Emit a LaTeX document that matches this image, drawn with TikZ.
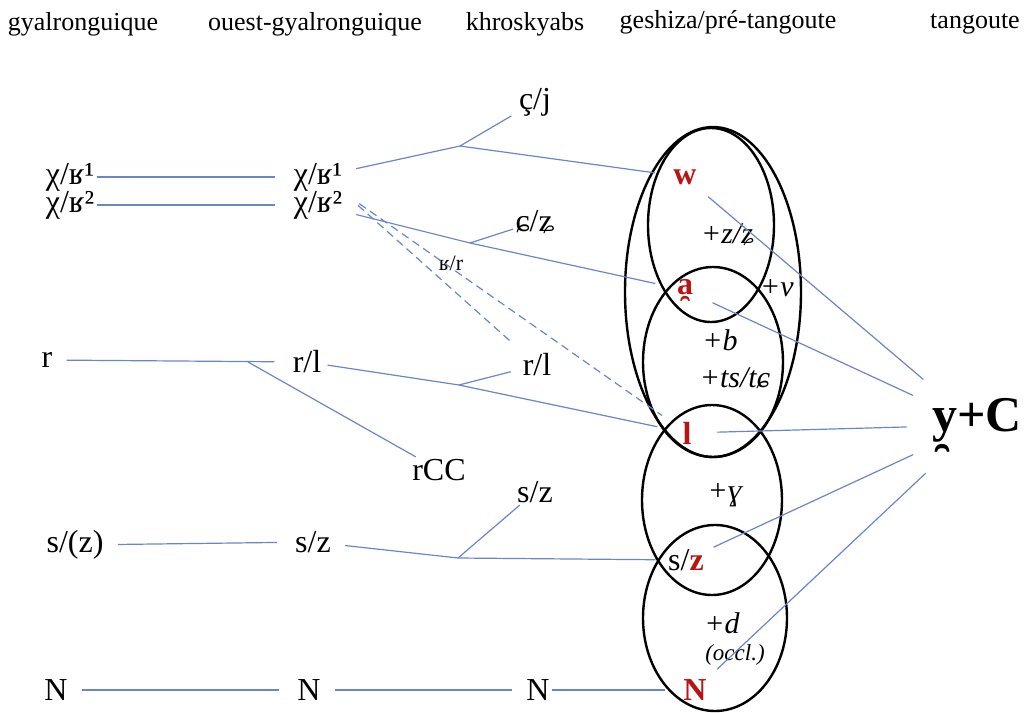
\documentclass[tikz,border=0pt]{standalone}
\usepackage{fontspec}
\setmainfont{Liberation Serif}
\definecolor{linkblue}{RGB}{105,135,200}
\definecolor{darkred}{RGB}{185,20,20}

\begin{document}
\begin{tikzpicture}
[
    x=0.5pt, y=-0.5pt,
    head/.style={font=\fontsize{13}{15}\selectfont},
    lbl/.style={font=\fontsize{16}{19}\selectfont, inner sep=1pt},
    redlbl/.style={font=\fontsize{16}{19}\selectfont\bfseries, text=darkred, circle, minimum size=30pt, inner sep=0pt},
    note/.style={font=\fontsize{15}{18}\selectfont\itshape},
    link/.style={draw=linkblue, line width=0.6pt},
    dlink/.style={link, dash pattern=on 4pt off 2.5pt},
    ring/.style={draw=black, line width=1.2pt}
]
    \useasboundingbox (0,0) rectangle (1024,713);

    \node [head] (h1) at (83,24) {gyalronguique};
    \node [head] (h2) at (315,24) {ouest-gyalronguique};
    \node [head] (h3) at (525,24) {khroskyabs};
    \node [head] (h4) at (728,22) {geshiza/pré-tangoute};
    \node [head] (h5) at (975,24) {tangoute};

    \node [lbl] (g1) at (70,177) {χ/ʁ¹};
    \node [lbl] (g2) at (70,205) {χ/ʁ²};
    \node [lbl] (g3) at (47,360) {r};
    \node [lbl] (g4) at (75,545) {s/(z)};
    \node [lbl] (g5) at (56,690) {N};

    \node [lbl] (o1) at (318,177) {χ/ʁ¹};
    \node [lbl] (o2) at (318,205) {χ/ʁ²};
    \node [lbl] (o3) at (307,362) {r/l};
    \node [lbl] (o4) at (313,542) {s/z};
    \node [lbl] (o5) at (309,690) {N};

    \node [lbl] (k1) at (535,102) {ç/j};
    \node [lbl] (k2) at (535,222) {ɕ/ʑ};
    \node [lbl] (k3) at (537,365) {r/l};
    \node [lbl] (rcc) at (439,470) {rCC};
    \node [lbl] (k4) at (535,492) {s/z};
    \node [lbl] (k5) at (538,690) {N};
    \node [font=\fontsize{11}{13}\selectfont] (ur) at (451,263) {ʁ/r};

    \coordinate (j1) at (460,146);
    \coordinate (j2) at (470,243);
    \coordinate (j3) at (248,362);
    \coordinate (j4) at (459,385);
    \coordinate (j5) at (458,558);

    \draw [ring] (711,225) ellipse [x radius=63, y radius=97];
    \draw [ring] (713,362) ellipse [x radius=70, y radius=95];
    \draw [ring] (713,292) ellipse [x radius=88, y radius=165];
    \draw [ring] (712,500) ellipse [x radius=70, y radius=95];
    \draw [ring] (715,618) ellipse [x radius=72, y radius=93];

    \node [redlbl] (w) at (685,177) {w};
    \node [redlbl] (a) at (685,290) {a̯};
    \node [redlbl] (l) at (687,433) {l};
    \node [redlbl, text=black, font=\fontsize{16}{19}\selectfont] (sz) at (686,560) {s/\textbf{\textcolor{darkred}{z}}};
    \node [redlbl] (n) at (695,690) {N};

    \node [note] (nz) at (727,235) {+z/ʑ};
    \node [note] (nv) at (777,288) {+v};
    \node [note] (nb) at (720,340) {+b};
    \node [note] (nts) at (735,378) {+ts/tɕ};
    \node [note] (ng) at (725,495) {+ɣ};
    \node [note] (nd) at (722,623) {+d};
    \node [note, font=\fontsize{11.5}{13}\selectfont\itshape] (nocc) at (735,655) {(occl.)};

    \node [font=\fontsize{25}{30}\selectfont\bfseries, circle, minimum size=70pt, inner sep=0pt] (t) at (977,425) {y̯+C};

    \draw [link, shorten >=8pt] (g1) -- (o1);
    \draw [link, shorten >=8pt] (g2) -- (o2);
    \draw [link, shorten <=6pt, shorten >=8pt] (g3) -- (o3);
    \draw [link] (j3) -- (rcc);
    \draw [link, shorten <=6pt, shorten >=8pt] (g4) -- (o4);
    \draw [link, shorten <=6pt, shorten >=8pt] (g5) -- (o5);

    \draw [link, shorten <=6pt] (o1) -- (j1);
    \draw [link, shorten >=3pt] (j1) -- (k1);
    \draw [link] (j1) -- (w);
    \draw [link, shorten <=6pt] (o2) -- (j2);
    \draw [link] (j2) -- (k2);
    \draw [link] (j2) -- (a);
    \draw [link, shorten <=2pt] (o3) -- (j4);
    \draw [link, shorten >=5pt] (j4) -- (k3);
    \draw [link] (j4) -- (l);
    \draw [link, shorten <=6pt] (o4) -- (j5);
    \draw [link] (j5) -- (k4);
    \draw [link] (j5) -- (sz);
    \draw [link, shorten <=6pt, shorten >=6pt] (o5) -- (k5);
    \draw [link] (k5) -- (n);

    \draw [dlink, shorten <=9pt, shorten >=6pt] (o1.south east) -- (k3);
    \draw [dlink, shorten <=9pt] (o1.south east) -- (l);

    \draw [link] (w) -- (t);
    \draw [link] (a) -- (t);
    \draw [link] (l) -- (t);
    \draw [link] (sz) -- (t);
    \draw [link] (n) -- (t);
\end{tikzpicture}
\end{document}
